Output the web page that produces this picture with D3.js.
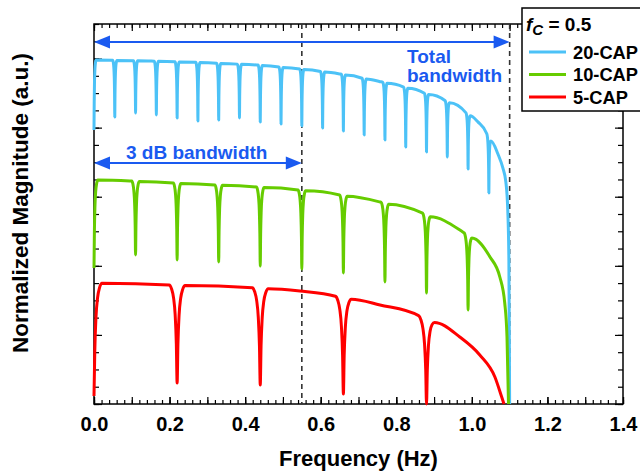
<!DOCTYPE html>
<html><head><meta charset="utf-8">
<script src="https://cdn.jsdelivr.net/npm/d3@7"></script>
<style>
body{margin:0;background:#fff}
text{font-family:"Liberation Sans",Arial,sans-serif;font-weight:bold}
</style>
</head><body>
<svg id="c" width="640" height="473"></svg>
<script>
// ---------- data ----------
const xTickValues = [0, 0.2, 0.4, 0.6, 0.8, 1.0, 1.2, 1.4];
const xTickLabels = ["0.0", "0.2", "0.4", "0.6", "0.8", "1.0", "1.2", "1.4"];
const seriesNames = ["20-CAP", "10-CAP", "5-CAP"];
const fcLabel = "0.5";
const bandwidth3dB = 0.55;
const bandwidthTotal = 1.1;

// 20-CAP envelope (frequency, magnitude) and notches
const cap20EnvF = [0, 0.148, 0.280, 0.431, 0.545, 0.651, 0.757, 0.828, 0.881, 0.937, 0.989, 1.016, 1.042, 1.069, 1.082, 1.090, 1.095, 1.098, 1.100];
const cap20EnvV = [4.98, 4.964, 4.943, 4.907, 4.849, 4.776, 4.665, 4.574, 4.487, 4.373, 4.199, 4.083, 3.894, 3.618, 3.416, 3.213, 2.808, 2.084, 0];
const cap20NotchF = [0, 0.055, 0.110, 0.165, 0.220, 0.275, 0.330, 0.385, 0.440, 0.495, 0.550, 0.605, 0.660, 0.715, 0.770, 0.825, 0.880, 0.935, 0.990, 1.045];
const cap20NotchV = [3.966, 4.154, 4.212, 4.183, 4.139, 4.096, 4.110, 4.139, 4.082, 4.053, 4.024, 3.995, 3.951, 3.894, 3.821, 3.720, 3.647, 3.575, 3.401, 3.054];

// 10-CAP
const cap10EnvF = [0, 0.095, 0.431, 0.545, 0.651, 0.757, 0.868, 0.976, 1.000, 1.048, 1.074, 1.087, 1.093, 1.097];
const cap10EnvV = [3.242, 3.228, 3.141, 3.097, 3.025, 2.924, 2.765, 2.489, 2.403, 2.128, 1.838, 1.462, 0.970, 0];
const cap10NotchF = [0, 0.11, 0.22, 0.33, 0.44, 0.55, 0.66, 0.77, 0.88, 0.99];
const cap10NotchV = [1.968, 2.157, 2.084, 2.055, 1.997, 1.954, 1.896, 1.766, 1.607, 1.361];

// 5-CAP
const cap5EnvF = [0, 0.201, 0.431, 0.545, 0.651, 0.757, 0.862, 0.899, 0.968, 1.021, 1.061, 1.079, 1.085];
const cap5EnvV = [1.751, 1.722, 1.679, 1.636, 1.549, 1.433, 1.274, 1.187, 0.970, 0.709, 0.391, 0.101, 0];
const cap5NotchF = [0, 0.22, 0.44, 0.66, 0.88];
const cap5NotchV = [0.116, 0.304, 0.275, 0.145, 0.0];

// ---------- layout ----------
const svg = d3.select("#c");
const L = 94, R = 623, T = 24, B = 404;
const x = d3.scaleLinear().domain([0, 1.4]).range([L, R]);
const y = d3.scaleLinear().domain([0, 5.5]).range([B, T]);

const blue = "#1a5af0";

// axes ticks
const xMinor = d3.range(0, 1.4001, 0.02);
const xMajor = d3.range(0, 1.4001, 0.1);
const yMinor = d3.range(0, 5.5001, 0.25);
const yMajor = d3.range(0, 5.5001, 1);

function styleAxis(g) {
  g.select(".domain").remove();
  g.selectAll(".tick line").attr("stroke", "#000").attr("stroke-width", 1.2);
}
svg.append("g").attr("transform", `translate(0,${B})`)
  .call(d3.axisBottom(x).tickValues(xMinor).tickSize(-4).tickFormat("")).call(styleAxis);
svg.append("g").attr("transform", `translate(0,${B})`)
  .call(d3.axisBottom(x).tickValues(xMajor).tickSize(-7).tickFormat("")).call(styleAxis);
svg.append("g").attr("transform", `translate(0,${B})`)
  .call(d3.axisBottom(x).tickValues(xTickValues).tickSize(-7).tickPadding(13)
    .tickFormat((d, i) => xTickLabels[i]))
  .call(styleAxis)
  .selectAll("text").attr("font-size", 20).attr("fill", "#000");
svg.append("g").attr("transform", `translate(0,${T})`)
  .call(d3.axisTop(x).tickValues(xMinor).tickSize(-4).tickFormat("")).call(styleAxis);
svg.append("g").attr("transform", `translate(0,${T})`)
  .call(d3.axisTop(x).tickValues(xMajor).tickSize(-7).tickFormat("")).call(styleAxis);
svg.append("g").attr("transform", `translate(${L},0)`)
  .call(d3.axisLeft(y).tickValues(yMinor).tickSize(-5).tickFormat("")).call(styleAxis);
svg.append("g").attr("transform", `translate(${L},0)`)
  .call(d3.axisLeft(y).tickValues(yMajor).tickSize(-8).tickFormat("")).call(styleAxis);
svg.append("g").attr("transform", `translate(${R},0)`)
  .call(d3.axisRight(y).tickValues(yMinor).tickSize(-5).tickFormat("")).call(styleAxis);
svg.append("g").attr("transform", `translate(${R},0)`)
  .call(d3.axisRight(y).tickValues(yMajor).tickSize(-8).tickFormat("")).call(styleAxis);

// frame
svg.append("rect").attr("x", L).attr("y", T).attr("width", R - L).attr("height", B - T)
  .attr("fill", "none").attr("stroke", "#000").attr("stroke-width", 1.5);

// dashed lines
[bandwidth3dB, bandwidthTotal].forEach(f => {
  svg.append("line").attr("x1", x(f)).attr("x2", x(f)).attr("y1", T).attr("y2", B)
    .attr("stroke", "#333").attr("stroke-width", 1.6).attr("stroke-dasharray", "5,4");
});

// curves
const prof = [[1, 0], [0.7, 0.04], [0.45, 0.13], [0.25, 0.3], [0.1, 0.6], [0, 1]];
function build(envF, envV, nF, nV, w) {
  const env = d3.scaleLinear().domain(envF).range(envV).clamp(true);
  const pts = [];
  envF.forEach((f, i) => { if (!nF.some(n => Math.abs(f - n) < w)) pts.push([f, envV[i]]); });
  nF.forEach((n, j) => {
    [-1, 1].forEach(side => {
      prof.forEach(([u, d]) => {
        const f = n + side * u * w;
        if (f < 0) return;
        if (side === 1 && u === 0) return;
        const e = env(f);
        pts.push([f, e - d * (e - nV[j])]);
      });
    });
  });
  pts.sort((a, b) => a[0] - b[0]);
  return pts;
}
const series = [
  {name: seriesNames[0], color: "#4cc2f7", pts: build(cap20EnvF, cap20EnvV, cap20NotchF, cap20NotchV, 0.0055)},
  {name: seriesNames[1], color: "#66cc00", pts: build(cap10EnvF, cap10EnvV, cap10NotchF, cap10NotchV, 0.010)},
  {name: seriesNames[2], color: "#ff0000", pts: build(cap5EnvF, cap5EnvV, cap5NotchF, cap5NotchV, 0.021)}
];
const line = d3.line().x(d => x(d[0])).y(d => y(d[1])).curve(d3.curveMonotoneX);
series.forEach(s => {
  svg.append("path").attr("d", line(s.pts)).attr("fill", "none")
    .attr("stroke", s.color).attr("stroke-width", 3).attr("stroke-linejoin", "round");
});

// arrows
function arrow(f0, f1, yPix) {
  const x0 = x(f0), x1 = x(f1);
  svg.append("line").attr("x1", x0 + 10).attr("x2", x1 - 10).attr("y1", yPix).attr("y2", yPix)
    .attr("stroke", blue).attr("stroke-width", 2);
  svg.append("path").attr("d", `M${x0},${yPix}L${x0 + 16},${yPix - 6.5}L${x0 + 16},${yPix + 6.5}Z`).attr("fill", blue);
  svg.append("path").attr("d", `M${x1},${yPix}L${x1 - 16},${yPix - 6.5}L${x1 - 16},${yPix + 6.5}Z`).attr("fill", blue);
}
arrow(0, bandwidthTotal, 42);
arrow(0, bandwidth3dB, 163);
svg.append("text").attr("x", 407).attr("y", 63).attr("font-size", 19).attr("fill", blue).text("Total");
svg.append("text").attr("x", 407).attr("y", 82).attr("font-size", 19).attr("fill", blue).text("bandwidth");
svg.append("text").attr("x", 126).attr("y", 159).attr("font-size", 19).attr("fill", blue).text("3 dB bandwidth");

// axis titles
svg.append("text").attr("x", (L + R) / 2).attr("y", 466).attr("text-anchor", "middle")
  .attr("font-size", 22).text("Frequency (Hz)");
svg.append("text").attr("transform", `translate(28,203) rotate(-90)`)
  .attr("text-anchor", "middle").attr("font-size", 22.5).text("Normalized Magnitude (a.u.)");

// legend
const lg = svg.append("g");
lg.append("rect").attr("x", 522).attr("y", 8).attr("width", 130).attr("height", 103)
  .attr("fill", "#fff").attr("stroke", "#000").attr("stroke-width", 1.5);
const t = lg.append("text").attr("x", 526).attr("y", 31).attr("font-size", 19);
t.append("tspan").attr("font-style", "italic").text("f");
t.append("tspan").attr("font-style", "italic").attr("font-size", 15).attr("dy", 4).text("C");
t.append("tspan").attr("dy", -4).text(" = " + fcLabel);
series.forEach((s, i) => {
  const yy = 52 + i * 22.5;
  lg.append("line").attr("x1", 529).attr("x2", 566).attr("y1", yy).attr("y2", yy)
    .attr("stroke", s.color).attr("stroke-width", 3);
  lg.append("text").attr("x", 573).attr("y", yy + 6.5).attr("font-size", 18.3).text(s.name);
});
</script>
</body></html>
